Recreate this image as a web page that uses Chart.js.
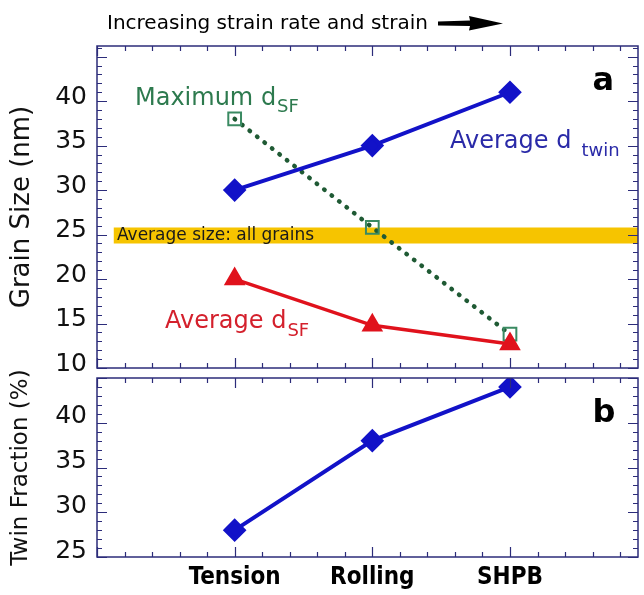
<!DOCTYPE html>
<html>
<head>
<meta charset="utf-8">
<script src="https://cdn.jsdelivr.net/npm/chart.js@4"></script>
<style>
    body { margin: 0; background: #fff; }
    #wrap { position: relative; width: 644px; height: 595px; }
    canvas { position: absolute; left: 0; }
</style>
</head>
<body>
<div id="wrap">
    <canvas id="grainChart" width="644" height="382" style="top:0"></canvas>
    <canvas id="twinChart" width="644" height="233" style="top:362px"></canvas>
</div>
<script>
// Datos
const categories = ['Tension', 'Rolling', 'SHPB'];
const categoryX = [1, 2, 3];
const avgTwinSize = [30, 35, 41];
const avgSfSize = [20, 14.8, 12.7];
const maxSfSize = [38, 25.8, 13.8];
const twinFraction = [28, 38, 44];
const allGrainsBand = [24.0, 25.8];
const allGrainsSpan = [0.12, 3.93];
const grainTicks = [10, 15, 20, 25, 30, 35, 40];
const fractionTicks = [25, 30, 35, 40];

const AXIS_COLOR = '#2c2c7a';
const FONT = "'DejaVu Sans', 'Liberation Sans', sans-serif";
const CAT_FONT = "'Liberation Sans Narrow', 'DejaVu Sans Condensed', 'Liberation Sans', sans-serif";

const points = ys => categoryX.map((x, i) => ({ x: x, y: ys[i] }));

/**
 * Marco con marcas hacia dentro en los cuatro lados
 */
const framePlugin = {
    id: 'frame',
    afterDatasetsDraw(chart) {
        const { ctx, chartArea: a, scales: { x, y } } = chart;
        ctx.save();
        ctx.strokeStyle = AXIS_COLOR;
        ctx.lineWidth = 1.5;
        ctx.strokeRect(a.left, a.top, a.right - a.left, a.bottom - a.top);
        ctx.lineWidth = 1.2;
        ctx.beginPath();
        for (let v = Math.ceil(y.min); v <= y.max; v++) {
            const py = Math.round(y.getPixelForValue(v)) + 0.5;
            const len = v % 5 === 0 ? 10 : 5;
            ctx.moveTo(a.left, py); ctx.lineTo(a.left + len, py);
            ctx.moveTo(a.right, py); ctx.lineTo(a.right - len, py);
        }
        for (let i = 0; i * 0.2 <= x.max; i++) {
            const px = Math.round(x.getPixelForValue(i * 0.2)) + 0.5;
            const len = i % 5 === 0 ? 10 : 5;
            ctx.moveTo(px, a.top); ctx.lineTo(px, a.top + len);
            ctx.moveTo(px, a.bottom); ctx.lineTo(px, a.bottom - len);
        }
        ctx.stroke();
        ctx.restore();
    }
};

/**
 * Texto con subíndice en coordenadas de datos
 */
function drawLabel(chart, xv, yv, text, sub, color, size, gap) {
    const { ctx, scales: { x, y } } = chart;
    const px = x.getPixelForValue(xv);
    const py = y.getPixelForValue(yv);
    ctx.fillStyle = color;
    ctx.textAlign = 'left';
    ctx.textBaseline = 'alphabetic';
    ctx.font = `${size}px ${FONT}`;
    ctx.fillText(text, px, py);
    if (sub) {
        const w = ctx.measureText(text).width;
        ctx.font = `${Math.round(size * 0.75)}px ${FONT}`;
        ctx.fillText(sub, px + w + (gap || 0), py + size * 0.32);
    }
}

const grainNotes = {
    id: 'grainNotes',
    afterDraw(chart) {
        const { ctx } = chart;
        ctx.save();
        // título y flecha
        ctx.fillStyle = '#000';
        ctx.font = `20px ${FONT}`;
        ctx.textAlign = 'left';
        ctx.textBaseline = 'alphabetic';
        ctx.fillText('Increasing strain rate and strain', 107, 29);
        ctx.beginPath();
        ctx.moveTo(438, 21.5); ctx.lineTo(470, 20.5); ctx.lineTo(469, 16);
        ctx.lineTo(503, 23.5); ctx.lineTo(469, 30.5); ctx.lineTo(470, 26);
        ctx.lineTo(438, 25.5);
        ctx.closePath();
        ctx.fill();

        drawLabel(chart, 0.276, 39.6, 'Maximum d', 'SF', '#2d7a4e', 24, 1);
        drawLabel(chart, 2.564, 34.75, 'Average d', 'twin', '#2a2aa8', 24, 10);
        drawLabel(chart, 0.494, 14.5, 'Average d', 'SF', '#d4202c', 24, 1);
        drawLabel(chart, 0.145, 24.35, 'Average size: all grains', null, '#1a1a1a', 17);
        ctx.font = `bold 32px ${FONT}`;
        ctx.fillStyle = '#000';
        ctx.fillText('a', chart.scales.x.getPixelForValue(3.6), chart.scales.y.getPixelForValue(41.25));
        ctx.restore();
    }
};

const twinNotes = {
    id: 'twinNotes',
    afterDraw(chart) {
        const { ctx, scales: { x, y } } = chart;
        ctx.save();
        ctx.font = `bold 32px ${FONT}`;
        ctx.fillStyle = '#000';
        ctx.textAlign = 'left';
        ctx.fillText('b', x.getPixelForValue(3.6), y.getPixelForValue(40.1));
        ctx.restore();
    }
};

function yAxis(min, max, shown, title, labelOffset, titleSize) {
    return {
        type: 'linear',
        min: min,
        max: max,
        afterFit: s => {
            s.width = 97;
            s.paddingTop = 0;
            s.paddingBottom = 0;
        },
        grid: { display: false, drawTicks: false },
        border: { display: false },
        ticks: {
            stepSize: 5,
            padding: 10,
            labelOffset: labelOffset,
            color: '#111',
            font: { family: FONT, size: 25 },
            callback: v => shown.includes(v) ? String(v) : '',
        },
        title: {
            display: true,
            text: title,
            color: '#111',
            font: { family: FONT, size: titleSize },
            padding: { top: 7, bottom: 0 },
        },
    };
}

function xAxis(showLabels) {
    return {
        type: 'linear',
        min: 0,
        max: 3.93,
        display: showLabels,
        afterFit: s => {
            s.height = showLabels ? 38 : 0;
            s.paddingLeft = 0;
            s.paddingRight = 0;
        },
        grid: { display: false, drawTicks: false },
        border: { display: false },
        ticks: {
            stepSize: 1,
            autoSkip: false,
            maxRotation: 0,
            padding: 6,
            color: '#000',
            font: { family: CAT_FONT, size: 24, weight: 'bold' },
            callback: v => categoryX.includes(v) ? categories[v - 1] : '',
        },
    };
}

const commonPlugins = {
    legend: { display: false },
    tooltip: { enabled: false },
};

// Panel a: tamaño de grano
new Chart(document.getElementById('grainChart'), {
    type: 'line',
    data: {
        datasets: [
            {
                label: 'Average d_twin',
                data: points(avgTwinSize),
                borderColor: '#1212c8',
                backgroundColor: '#1212c8',
                borderWidth: 4,
                pointStyle: 'rectRot',
                pointRadius: 9,
            },
            {
                label: 'Average d_SF',
                data: points(avgSfSize),
                borderColor: '#e0121c',
                backgroundColor: '#e0121c',
                borderWidth: 3.5,
                pointStyle: 'triangle',
                pointRadius: 9,
            },
            {
                label: 'Maximum d_SF',
                data: points(maxSfSize),
                borderColor: '#1f5a34',
                borderWidth: 4.5,
                borderDash: [0.5, 9],
                borderCapStyle: 'round',
                pointStyle: 'rect',
                pointRadius: 9,
                pointBorderColor: '#3a8a62',
                pointBackgroundColor: 'rgba(255,255,255,0)',
                pointBorderWidth: 2,
            },
            {
                label: 'band top',
                data: allGrainsSpan.map(x => ({ x: x, y: allGrainsBand[1] })),
                borderWidth: 0,
                pointRadius: 0,
                backgroundColor: '#f6c400',
                fill: '+1',
            },
            {
                label: 'band bottom',
                data: allGrainsSpan.map(x => ({ x: x, y: allGrainsBand[0] })),
                borderWidth: 0,
                pointRadius: 0,
                fill: false,
            },
        ],
    },
    options: {
        responsive: false,
        animation: false,
        layout: { autoPadding: false, padding: { top: 46, right: 6, bottom: 14, left: 0 } },
        scales: {
            x: xAxis(false),
            y: yAxis(10, 46.2, grainTicks, 'Grain Size (nm)', -4, 26),
        },
        plugins: commonPlugins,
    },
    plugins: [framePlugin, grainNotes],
});

// Panel b: fracción de maclas
new Chart(document.getElementById('twinChart'), {
    type: 'line',
    data: {
        datasets: [{
            label: 'Twin Fraction',
            data: points(twinFraction),
            borderColor: '#1212c8',
            backgroundColor: '#1212c8',
            borderWidth: 4,
            pointStyle: 'rectRot',
            pointRadius: 9,
        }],
    },
    options: {
        responsive: false,
        animation: false,
        layout: { autoPadding: false, padding: { top: 16, right: 6, bottom: 0, left: 0 } },
        scales: {
            x: xAxis(true),
            y: yAxis(25, 45, fractionTicks, 'Twin Fraction (%)', -6, 23),
        },
        plugins: commonPlugins,
    },
    plugins: [framePlugin, twinNotes],
});
</script>
</body>
</html>
